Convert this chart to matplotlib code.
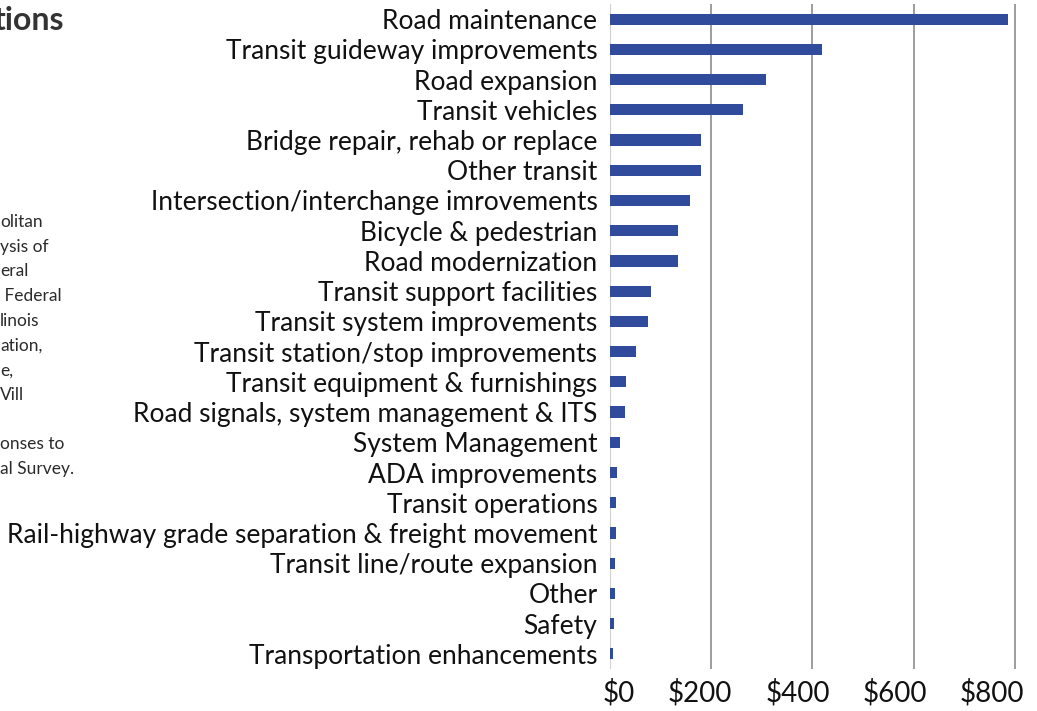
import matplotlib
matplotlib.use("Agg")
import matplotlib.pyplot as plt

plt.rcParams["font.family"] = ["Lato", "DejaVu Sans"]

categories = [
    "Road maintenance",
    "Transit guideway improvements",
    "Road expansion",
    "Transit vehicles",
    "Bridge repair, rehab or replace",
    "Other transit",
    "Intersection/interchange imrovements",
    "Bicycle & pedestrian",
    "Road modernization",
    "Transit support facilities",
    "Transit system improvements",
    "Transit station/stop improvements",
    "Transit equipment & furnishings",
    "Road signals, system management & ITS",
    "System Management",
    "ADA improvements",
    "Transit operations",
    "Rail-highway grade separation & freight movement",
    "Transit line/route expansion",
    "Other",
    "Safety",
    "Transportation enhancements",
]
values = [787, 418, 308, 262, 180, 180, 158, 134, 134, 81, 75, 51,
          32, 30, 20, 14.5, 12.5, 12, 10.5, 10, 8, 6.5]
ticks = [0, 200, 400, 600, 800]
tick_labels = ["$0", "$200", "$400", "$600", "$800"]

# cropped side panel text (cut off at the left edge of the image)
title_frag = "tions"
note_frags = ["olitan", "ysis of", "eral", " Federal", "linois", "ation,",
              "e,", "Vill", "", "onses to", "al Survey."]

W, H = 1037, 711
fig = plt.figure(figsize=(W / 100, H / 100), dpi=100)
ax = fig.add_axes([610 / W, 1 - 669 / H, 420 / W, 665 / H])

ypos = list(range(len(categories)))
ax.barh(ypos, values, height=0.37, color="#304a9c", zorder=3)
ax.set_ylim(len(categories) - 0.5, -0.5)
ax.set_xlim(0, 830)

ax.set_yticks(ypos)
ax.set_yticklabels(categories, fontsize=19, color="#111111")
ax.set_xticks(ticks)
ax.set_xticklabels([])
ax.tick_params(axis="y", length=0, pad=9)
ax.tick_params(axis="x", length=0)

# tick labels in the original sit right-aligned, drifting left of the gridlines
for k, lab in enumerate(tick_labels):
    ax.text(49 + k * 192.5, -0.036, lab, transform=ax.get_xaxis_transform(),
            ha="right", va="center", fontsize=20, color="#111111")

for t in ticks[1:]:
    ax.axvline(t, color="#8c8c8c", lw=1.2, zorder=1)
ax.axvline(0, color="#d0d0d0", lw=1.5, zorder=1)
for s in ax.spines.values():
    s.set_visible(False)

fig.text(-0.006, 1 - 21 / H, title_frag, fontsize=23, fontweight="bold",
         color="#333333", ha="left", va="center")
for i, frag in enumerate(note_frags):
    y = 222 + i * 24.7
    fig.text(0, 1 - y / H, frag, fontsize=12.5, color="#2b2b2b",
             ha="left", va="center")

fig.savefig("out.png", dpi=100)
